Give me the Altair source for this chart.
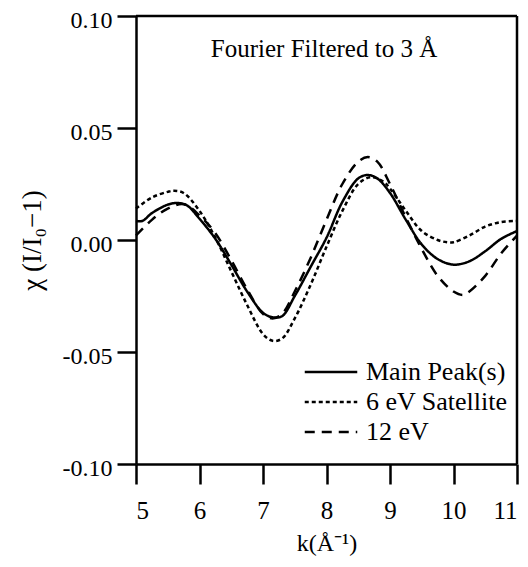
import altair as alt
import pandas as pd

# Main peak(s) (solid)
k_main = [5.0, 5.1, 5.25, 5.5, 5.65, 5.8, 6.0, 6.25, 6.5, 6.75, 7.0, 7.15, 7.3, 7.5, 7.75, 8.0,
          8.25, 8.5, 8.65, 8.8, 9.0, 9.25, 9.5, 9.75, 10.0, 10.25, 10.5, 10.75, 11.0]
chi_main = [0.0085, 0.0085, 0.012, 0.0158, 0.0165, 0.0155, 0.0095, 0.0005, -0.011, -0.023, -0.0325,
            -0.0345, -0.034, -0.025, -0.012, 0.001, 0.017, 0.0275, 0.029, 0.0275, 0.021, 0.009,
            -0.002, -0.0085, -0.011, -0.0095, -0.005, 0.0005, 0.004]

# 6 eV satellite (dotted)
k_sat6 = [5.0, 5.25, 5.5, 5.6, 5.75, 6.0, 6.25, 6.5, 6.75, 7.0, 7.15, 7.3, 7.5, 7.75, 8.0,
          8.25, 8.5, 8.7, 8.9, 9.0, 9.25, 9.5, 9.75, 9.9, 10.0, 10.25, 10.5, 10.75, 11.0]
chi_sat6 = [0.014, 0.019, 0.0215, 0.022, 0.021, 0.013, 0.001, -0.014, -0.029, -0.042, -0.045,
            -0.044, -0.035, -0.020, -0.003, 0.013, 0.025, 0.028, 0.026, 0.023, 0.013, 0.004,
            0.0, -0.001, -0.001, 0.002, 0.006, 0.008, 0.0085]

# 12 eV (dashed)
k_sat12 = [5.0, 5.25, 5.5, 5.75, 6.0, 6.25, 6.5, 6.75, 7.0, 7.15, 7.3, 7.5, 7.75, 8.0,
           8.25, 8.5, 8.65, 8.8, 9.0, 9.25, 9.5, 9.75, 10.0, 10.15, 10.25, 10.5, 10.75, 11.0]
chi_sat12 = [0.002, 0.009, 0.014, 0.016, 0.011, 0.003, -0.009, -0.022, -0.033, -0.035, -0.033,
             -0.023, -0.008, 0.009, 0.025, 0.035, 0.037, 0.035, 0.025, 0.010, -0.004, -0.016,
             -0.023, -0.0245, -0.023, -0.016, -0.006, 0.002]

series_names = ["Main Peak(s)", "6 eV Satellite", "12 eV"]
x_ticks = [5, 6, 7, 8, 9, 10, 11]
y_ticks = [-0.10, -0.05, 0.0, 0.05, 0.10]

rows = []
for name, ks, vs in [(series_names[0], k_main, chi_main),
                     (series_names[1], k_sat6, chi_sat6),
                     (series_names[2], k_sat12, chi_sat12)]:
    for k, v in zip(ks, vs):
        rows.append({"k": k, "chi": v, "series": name})
df = pd.DataFrame(rows)

FONT = "serif"
W, H = 381, 448

lines = alt.Chart(df).mark_line(color="black", strokeWidth=2.5, interpolate="catmull-rom").encode(
    x=alt.X("k:Q", scale=alt.Scale(domain=[5, 11], nice=False),
            axis=alt.Axis(values=x_ticks, title="k(Å⁻¹)", grid=False,
                          domain=True, domainColor="black", domainWidth=2.5,
                          tickSize=20, tickWidth=2.5, tickColor="black",
                          labelFont=FONT, labelFontSize=25, labelColor="black", labelPadding=14,
                          titleFont=FONT, titleFontSize=24, titleFontWeight="normal",
                          titleColor="black", titlePadding=8)),
    y=alt.Y("chi:Q", scale=alt.Scale(domain=[-0.10, 0.10], nice=False),
            axis=alt.Axis(values=y_ticks, title="χ (I/I₀−1)", grid=False,
                          domain=True, domainColor="black", domainWidth=2.5,
                          labelExpr="datum.value < -0.0001 ? '-' + format(-datum.value, '.2f') : format(datum.value, '.2f')",
                          tickSize=19, tickWidth=2.5, tickColor="black",
                          labelFont=FONT, labelFontSize=24, labelColor="black", labelPadding=5,
                          labelOffset=4,
                          titleFont=FONT, titleFontSize=27, titleFontWeight="normal",
                          titleColor="black", titlePadding=16)),
    strokeDash=alt.StrokeDash("series:N",
                              scale=alt.Scale(domain=series_names, range=[[1, 0], [4, 3], [10, 7]]),
                              legend=alt.Legend(title=None, orient="none", legendX=182, legendY=343,
                                                symbolType="M-2.5,0H2.5", symbolSize=441,
                                                symbolStrokeWidth=2.5, symbolStrokeColor="black",
                                                labelFont=FONT, labelFontSize=26, labelColor="black",
                                                labelOffset=22, rowPadding=4, padding=0)),
    detail="series:N",
)

# frame: top and right edges of the plot box
top_edge = alt.Chart(pd.DataFrame({"e": ["top"]})).mark_rule(color="black", strokeWidth=2.5).encode(
    x=alt.value(0), x2=alt.value(W), y=alt.value(0))
right_edge = alt.Chart(pd.DataFrame({"e": ["right"]})).mark_rule(color="black", strokeWidth=2.5).encode(
    x=alt.value(W), y=alt.value(0), y2=alt.value(H))

label = alt.Chart(pd.DataFrame({"t": ["Fourier Filtered to 3 Å"]})).mark_text(
    font=FONT, fontSize=25, color="black", align="center", baseline="middle"
).encode(x=alt.value(188), y=alt.value(33), text="t:N")

chart = alt.layer(lines, top_edge, right_edge, label).properties(
    width=W, height=H,
    autosize=alt.AutoSizeParams(type="none"),
    padding={"left": 128, "top": 8, "right": 3, "bottom": 95},
).configure(background="white", view=alt.ViewConfig(stroke=None))

chart.save("out.html", embed_options={"renderer": "svg", "actions": False})
